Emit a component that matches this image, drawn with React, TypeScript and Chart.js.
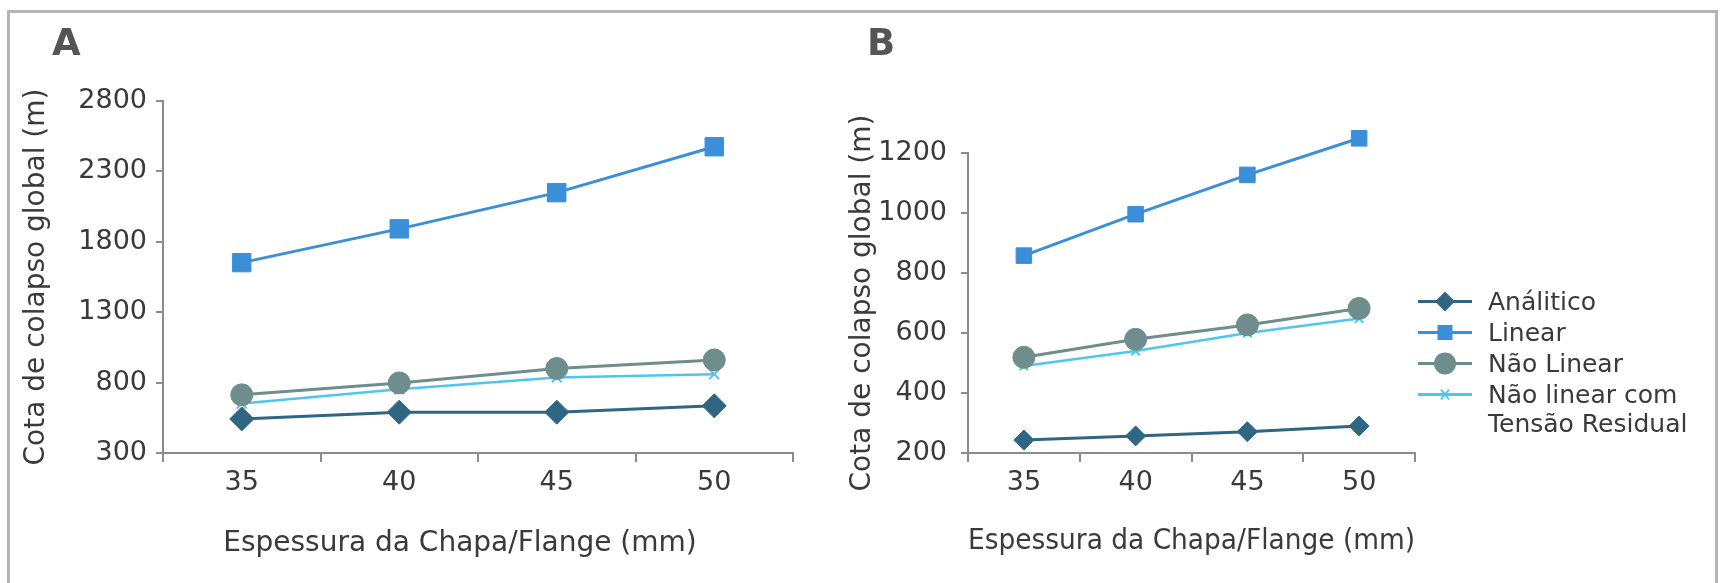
import React, { useEffect, useRef } from "react";
import { Chart, registerables } from "chart.js";

Chart.register(...registerables);

// ---- data ----
const categories = ["35", "40", "45", "50"];
const seriesNames = ["Análitico", "Linear", "Não Linear", "Não linear com Tensão Residual"];

const aAnalitico = [542, 590, 590, 635];
const aLinear = [1652, 1892, 2149, 2475];
const aNaoLinear = [713, 798, 900, 961];
const aNaoLinearTR = [651, 752, 837, 860];

const bAnalitico = [243, 257, 271, 290];
const bLinear = [858, 996, 1127, 1249];
const bNaoLinear = [519, 579, 627, 682];
const bNaoLinearTR = [490, 540, 600, 648];

const aTickMin = 300;
const aTickMax = 2800;
const aTickStep = 500;
const bTickMin = 200;
const bTickMax = 1200;
const bTickStep = 200;

const xTitle = "Espessura da Chapa/Flange (mm)";
const yTitle = "Cota de colapso global (m)";

// ---- styles ----
const FONT = "'DejaVu Sans', sans-serif";
const TEXT = "#3a3a3a";
const AXIS = "#8c8c8c";
const C_ANA = "#2f6683";
const C_LIN = "#3b8fd9";
const C_NL = "#6f8d8d";
const C_NLTR = "#4fc6ec";

type Sizes = { dia: number; sq: number; circ: number; cross: number };

// draws points that lie just outside the chart area (e.g. above the axis max)
const overflowPoints = {
  id: "overflowPoints",
  afterDatasetsDraw(chart: any) {
    const area = chart.chartArea;
    const full = { left: 0, top: 0, right: chart.width, bottom: chart.height };
    chart.data.datasets.forEach((_ds: any, i: number) => {
      const meta = chart.getDatasetMeta(i);
      meta.data.forEach((el: any) => {
        if (el.y < area.top || el.y > area.bottom) el.draw(chart.ctx, full);
      });
    });
  },
};

function buildDatasets(vals: number[][], s: Sizes) {
  return [
    {
      label: seriesNames[0],
      data: vals[0],
      borderColor: C_ANA,
      backgroundColor: C_ANA,
      pointStyle: "rectRot",
      pointRadius: s.dia,
      pointBorderWidth: 1,
      borderWidth: 3,
      tension: 0,
      clip: false,
    },
    {
      label: seriesNames[1],
      data: vals[1],
      borderColor: C_LIN,
      backgroundColor: C_LIN,
      pointStyle: "rect",
      pointRadius: s.sq,
      pointBorderWidth: 1,
      borderWidth: 3,
      tension: 0,
      clip: false,
    },
    {
      label: seriesNames[2],
      data: vals[2],
      borderColor: C_NL,
      backgroundColor: C_NL,
      pointStyle: "circle",
      pointRadius: s.circ,
      pointBorderWidth: 1,
      borderWidth: 3,
      tension: 0,
      clip: false,
    },
    {
      label: seriesNames[3],
      data: vals[3],
      borderColor: C_NLTR,
      backgroundColor: C_NLTR,
      pointStyle: "crossRot",
      pointRadius: s.cross,
      pointBorderWidth: 2,
      borderWidth: 2.5,
      tension: 0,
      clip: false,
    },
  ];
}

type Geo = {
  yWidth: number;
  xHeight: number;
  padTop: number;
  padRight: number;
  yTitlePad: number;
  yTickPad: number;
  showXTitle: boolean;
};

function buildConfig(vals: number[][], sizes: Sizes, min: number, max: number, step: number, g: Geo): any {
  return {
    type: "line",
    data: { labels: categories, datasets: buildDatasets(vals, sizes) },
    plugins: [overflowPoints],
    options: {
      responsive: false,
      animation: false,
      layout: { padding: { top: g.padTop, right: g.padRight, left: 0, bottom: 0 } },
      plugins: { legend: { display: false }, tooltip: { enabled: false } },
      scales: {
        x: {
          type: "category",
          offset: true,
          grid: {
            offset: true,
            drawOnChartArea: false,
            drawTicks: true,
            tickLength: 9,
            color: AXIS,
            lineWidth: 2,
          },
          border: { display: true, color: AXIS, width: 2 },
          ticks: { color: TEXT, font: { family: FONT, size: 27 }, padding: 5 },
          title: {
            display: g.showXTitle,
            text: xTitle,
            color: TEXT,
            font: { family: FONT, size: 28 },
            padding: { top: 0, bottom: 24 },
          },
          afterFit: (s: any) => {
            s.height = g.xHeight;
          },
        },
        y: {
          type: "linear",
          min,
          max,
          ticks: {
            stepSize: step,
            color: TEXT,
            font: { family: FONT, size: 27 },
            padding: g.yTickPad,
            callback: (v: any) => String(v),
          },
          grid: {
            drawOnChartArea: false,
            drawTicks: true,
            tickLength: 7,
            color: AXIS,
            lineWidth: 2,
          },
          border: { display: true, color: AXIS, width: 2 },
          title: {
            display: true,
            text: yTitle,
            color: TEXT,
            font: { family: FONT, size: 28 },
            padding: { top: g.yTitlePad, bottom: 0 },
          },
          afterFit: (s: any) => {
            s.width = g.yWidth;
          },
        },
      },
    },
  };
}

function LineChart(props: { cfg: any; left: number; width: number; height: number }) {
  const ref = useRef<HTMLCanvasElement>(null);
  useEffect(() => {
    const chart = new Chart(ref.current as HTMLCanvasElement, props.cfg);
    return () => chart.destroy();
  }, []);
  return (
    <canvas
      ref={ref}
      width={props.width}
      height={props.height}
      style={{ position: "absolute", left: props.left, top: 0, width: props.width, height: props.height, display: "block" }}
    />
  );
}

function Marker({ kind, color }: { kind: string; color: string }) {
  const cy = 15.5;
  let m: any = null;
  if (kind === "dia") m = <polygon points={`17,${cy} 27,${cy - 10} 37,${cy} 27,${cy + 10}`} fill={color} />;
  if (kind === "sq") m = <rect x={19.5} y={cy - 7.5} width={15} height={15} fill={color} />;
  if (kind === "circ") m = <circle cx={27} cy={cy} r={11} fill={color} />;
  if (kind === "cross")
    m = (
      <g stroke={color} strokeWidth={2}>
        <line x1={23} y1={cy - 5} x2={31} y2={cy + 5} />
        <line x1={23} y1={cy + 5} x2={31} y2={cy - 5} />
      </g>
    );
  return (
    <svg width={54} height={31} style={{ display: "block", flex: "none" }}>
      <line x1={0} y1={cy} x2={54} y2={cy} stroke={color} strokeWidth={3} />
      {m}
    </svg>
  );
}

function Legend() {
  const items = [
    { kind: "dia", color: C_ANA, text: [seriesNames[0]] },
    { kind: "sq", color: C_LIN, text: [seriesNames[1]] },
    { kind: "circ", color: C_NL, text: [seriesNames[2]] },
    { kind: "cross", color: C_NLTR, text: ["Não linear com", "Tensão Residual"] },
  ];
  return (
    <div style={{ position: "absolute", left: 1418, top: 286, fontFamily: FONT, fontSize: 25, color: TEXT }}>
      {items.map((it, i) => (
        <div key={i} style={{ display: "flex", alignItems: "flex-start", height: it.text.length > 1 ? 60 : 31 }}>
          <Marker kind={it.kind} color={it.color} />
          <div style={{ marginLeft: 16, lineHeight: "29px", paddingTop: 1, whiteSpace: "nowrap" }}>
            {it.text.map((t, j) => (
              <div key={j}>{t}</div>
            ))}
          </div>
        </div>
      ))}
    </div>
  );
}

export default function App() {
  const cfgA = buildConfig(
    [aAnalitico, aLinear, aNaoLinear, aNaoLinearTR],
    { dia: 12, sq: 13, circ: 11, cross: 7 },
    aTickMin,
    aTickMax,
    aTickStep,
    { yWidth: 163, xHeight: 130, padTop: 101, padRight: 37, yTitlePad: 20, yTickPad: 9, showXTitle: false }
  );
  const cfgB = buildConfig(
    [bAnalitico, bLinear, bNaoLinear, bNaoLinearTR],
    { dia: 10, sq: 11, circ: 11, cross: 6 },
    bTickMin,
    bTickMax,
    bTickStep,
    { yWidth: 138, xHeight: 130, padTop: 153, padRight: 308, yTitlePad: 16, yTickPad: 14, showXTitle: true }
  );
  return (
    <div style={{ position: "absolute", left: 0, top: 0, width: 1723, height: 583, overflow: "hidden", background: "#fff", fontFamily: FONT }}>
      <div
        style={{
          position: "absolute",
          left: 7,
          top: 10,
          width: 1711,
          height: 640,
          border: "3px solid #b4b4b4",
          boxSizing: "border-box",
        }}
      />
      <LineChart cfg={cfgA} left={0} width={830} height={583} />
      <LineChart cfg={cfgB} left={830} width={893} height={583} />
      <div
        style={{
          position: "absolute",
          left: 0,
          width: 920,
          top: 525,
          textAlign: "center",
          fontSize: 28,
          lineHeight: "34px",
          color: TEXT,
          whiteSpace: "nowrap",
        }}
      >
        {xTitle}
      </div>
      <div style={{ position: "absolute", left: 52, top: 24, fontSize: 37, fontWeight: "bold", color: "#555", lineHeight: 1 }}>A</div>
      <div style={{ position: "absolute", left: 867, top: 24, fontSize: 37, fontWeight: "bold", color: "#555", lineHeight: 1 }}>B</div>
      <Legend />
    </div>
  );
}
